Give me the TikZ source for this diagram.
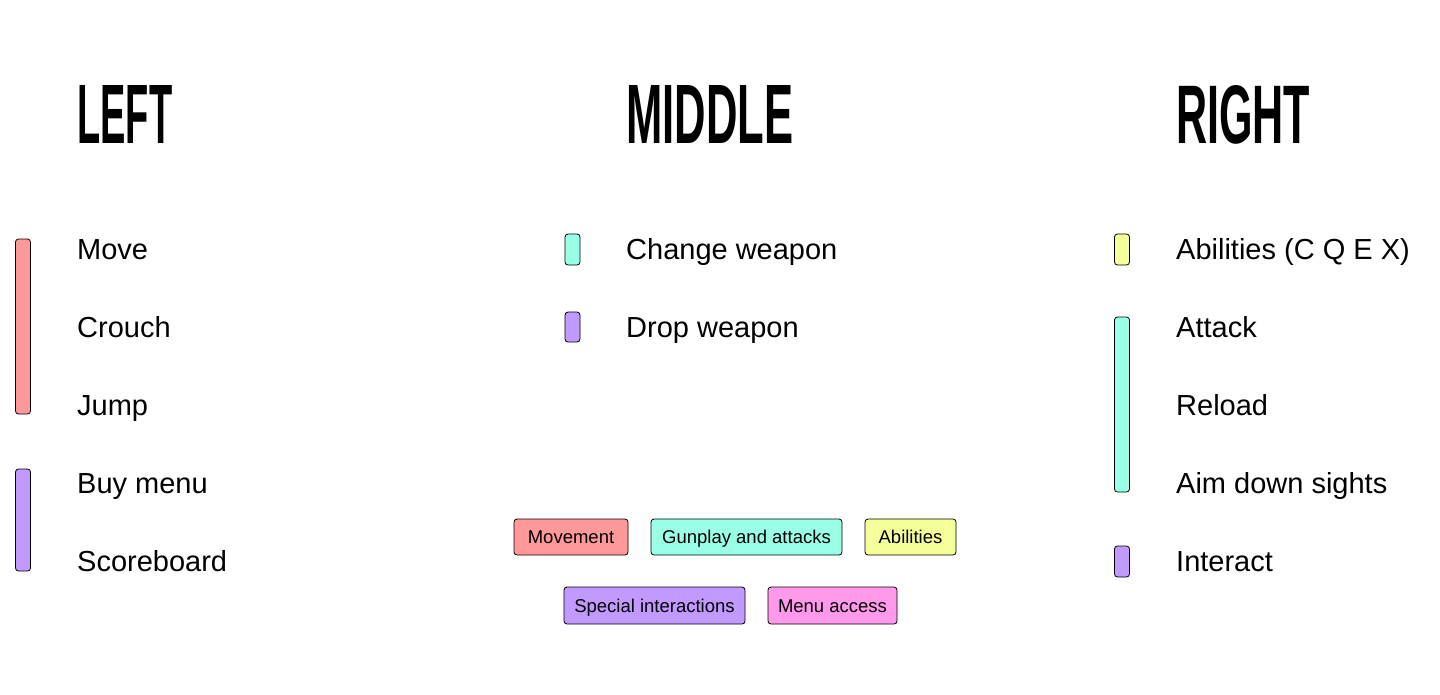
\documentclass[tikz,border=0pt]{standalone}
\usepackage{fontspec}
\setmainfont{Liberation Sans}
\definecolor{cred}{HTML}{FF9999}
\definecolor{cteal}{HTML}{99FFE6}
\definecolor{cyel}{HTML}{F5FF99}
\definecolor{cpurp}{HTML}{C299FF}
\definecolor{cpink}{HTML}{FF99EB}
\newcommand{\headtxt}[2]{\resizebox{#1pt}{58pt}{\bfseries #2}}
\begin{document}
\begin{tikzpicture}[x=1pt,y=-1pt,
  head/.style={anchor=base west,inner sep=0pt},
  item/.style={anchor=base west,inner sep=0pt,font=\fontsize{29}{33}\selectfont},
  bar/.style={draw=black,line width=0.8pt,rounded corners=3pt,minimum width=15pt,inner sep=0pt},
  legend/.style={draw=black,line width=0.8pt,rounded corners=3pt,inner sep=0pt,font=\fontsize{18.5}{20}\selectfont,text height=13.3pt,text depth=0pt,minimum height=36pt}]
\useasboundingbox[fill=white] (0,0) rectangle (1440,694);
% headings
\node[head] (hl) at (77,143) {\headtxt{95}{LEFT}};
\node[head] (hm) at (626,143) {\headtxt{167}{MIDDLE}};
\node[head] (hr) at (1176,143) {\headtxt{134}{RIGHT}};
% left column
\node[bar,fill=cred,minimum height=175pt] (bl1) at (23,326.5) {};
\node[bar,fill=cpurp,minimum height=102pt] (bl2) at (23,520) {};
\node[item] (l1) at (77,259) {Move};
\node[item] (l2) at (77,337) {Crouch};
\node[item] (l3) at (77,415) {Jump};
\node[item] (l4) at (77,493) {Buy menu};
\node[item] (l5) at (77,571) {Scoreboard};
% middle column
\node[bar,fill=cteal,minimum height=31pt] (bm1) at (572.5,249.5) {};
\node[bar,fill=cpurp,minimum height=30pt] (bm2) at (572.5,327) {};
\node[item] (m1) at (626,259) {Change weapon};
\node[item] (m2) at (626,337) {Drop weapon};
% right column
\node[bar,fill=cyel,minimum height=31pt] (br1) at (1122,249.5) {};
\node[bar,fill=cteal,minimum height=175pt] (br2) at (1122,404.5) {};
\node[bar,fill=cpurp,minimum height=31pt] (br3) at (1122,561.5) {};
\node[item] (r1) at (1176,259) {Abilities (C Q E X)};
\node[item] (r2) at (1176,337) {Attack};
\node[item] (r3) at (1176,415) {Reload};
\node[item] (r4) at (1176,493) {Aim down sights};
\node[item] (r5) at (1176,571) {Interact};
% legend
\node[legend,fill=cred,minimum width=114pt] (g1) at (571,537) {Movement};
\node[legend,fill=cteal,minimum width=191pt] (g2) at (746.5,537) {Gunplay and attacks};
\node[legend,fill=cyel,minimum width=91pt] (g3) at (910.5,537) {Abilities};
\node[legend,fill=cpurp,minimum width=181pt,minimum height=37pt] (g4) at (654.5,605.5) {Special interactions};
\node[legend,fill=cpink,minimum width=129pt,minimum height=37pt] (g5) at (832.5,605.5) {Menu access};
\end{tikzpicture}
\end{document}
